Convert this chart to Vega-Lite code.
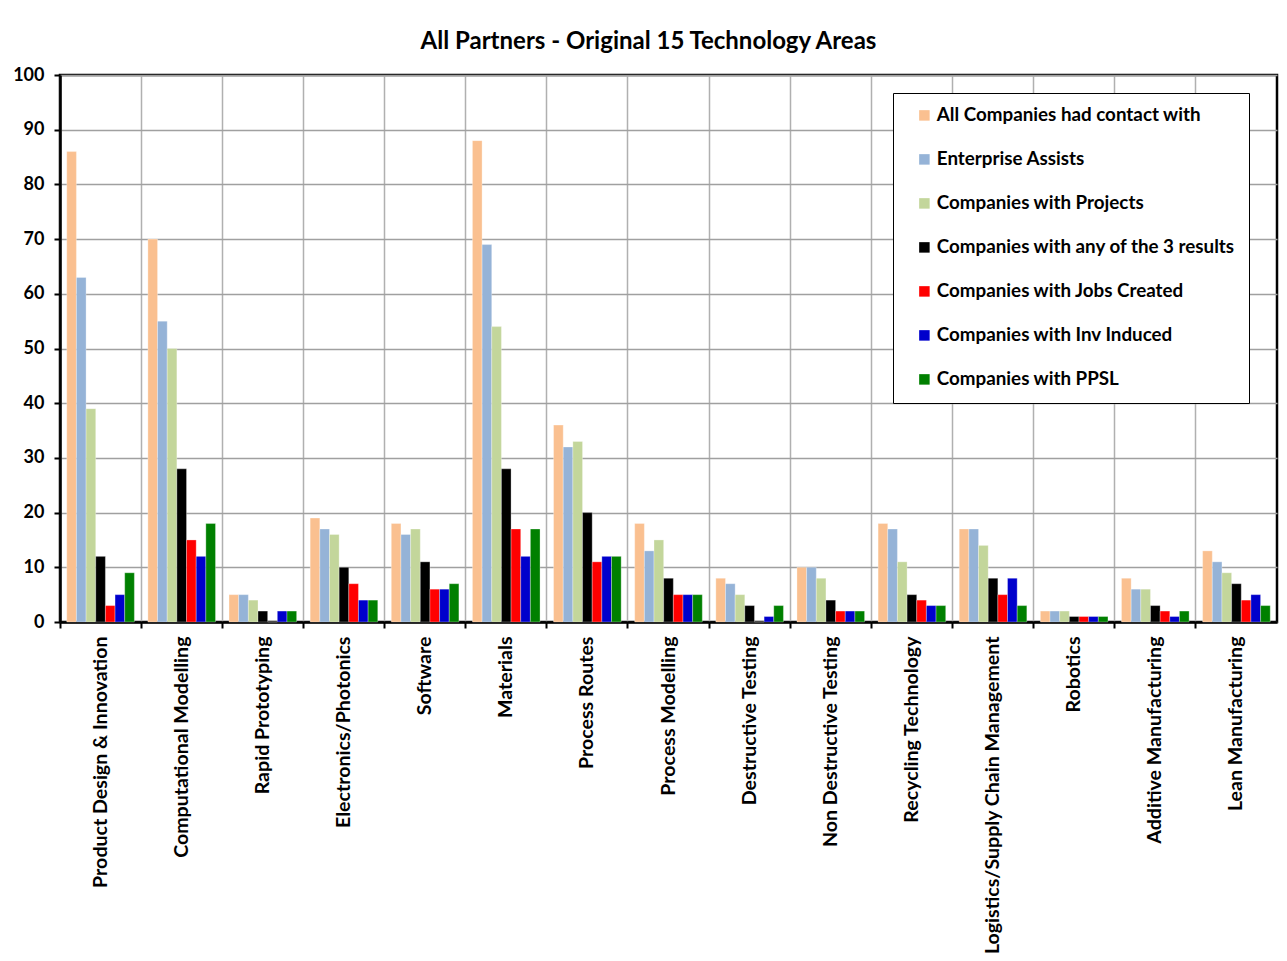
{
  "$schema": "https://vega.github.io/schema/vega-lite/v6.json",
  "autosize": {"type": "none"},
  "padding": {"left": 60, "top": 75, "right": 10, "bottom": 339},
  "width": 1217,
  "height": 547,
  "background": "white",
  "title": {
    "text": "All Partners - Original 15 Technology Areas",
    "font": "Lato",
    "fontSize": 24,
    "fontWeight": "bold",
    "color": "#000000",
    "anchor": "middle",
    "dx": -20,
    "offset": 12
  },
  "data": {"values": [
    {"area": "Product Design & Innovation", "s": 1, "value": 86}, {"area": "Product Design & Innovation", "s": 2, "value": 63}, {"area": "Product Design & Innovation", "s": 3, "value": 39}, {"area": "Product Design & Innovation", "s": 4, "value": 12}, {"area": "Product Design & Innovation", "s": 5, "value": 3}, {"area": "Product Design & Innovation", "s": 6, "value": 5}, {"area": "Product Design & Innovation", "s": 7, "value": 9},
    {"area": "Computational Modelling", "s": 1, "value": 70}, {"area": "Computational Modelling", "s": 2, "value": 55}, {"area": "Computational Modelling", "s": 3, "value": 50}, {"area": "Computational Modelling", "s": 4, "value": 28}, {"area": "Computational Modelling", "s": 5, "value": 15}, {"area": "Computational Modelling", "s": 6, "value": 12}, {"area": "Computational Modelling", "s": 7, "value": 18},
    {"area": "Rapid Prototyping", "s": 1, "value": 5}, {"area": "Rapid Prototyping", "s": 2, "value": 5}, {"area": "Rapid Prototyping", "s": 3, "value": 4}, {"area": "Rapid Prototyping", "s": 4, "value": 2}, {"area": "Rapid Prototyping", "s": 5, "value": 0}, {"area": "Rapid Prototyping", "s": 6, "value": 2}, {"area": "Rapid Prototyping", "s": 7, "value": 2},
    {"area": "Electronics/Photonics", "s": 1, "value": 19}, {"area": "Electronics/Photonics", "s": 2, "value": 17}, {"area": "Electronics/Photonics", "s": 3, "value": 16}, {"area": "Electronics/Photonics", "s": 4, "value": 10}, {"area": "Electronics/Photonics", "s": 5, "value": 7}, {"area": "Electronics/Photonics", "s": 6, "value": 4}, {"area": "Electronics/Photonics", "s": 7, "value": 4},
    {"area": "Software", "s": 1, "value": 18}, {"area": "Software", "s": 2, "value": 16}, {"area": "Software", "s": 3, "value": 17}, {"area": "Software", "s": 4, "value": 11}, {"area": "Software", "s": 5, "value": 6}, {"area": "Software", "s": 6, "value": 6}, {"area": "Software", "s": 7, "value": 7},
    {"area": "Materials", "s": 1, "value": 88}, {"area": "Materials", "s": 2, "value": 69}, {"area": "Materials", "s": 3, "value": 54}, {"area": "Materials", "s": 4, "value": 28}, {"area": "Materials", "s": 5, "value": 17}, {"area": "Materials", "s": 6, "value": 12}, {"area": "Materials", "s": 7, "value": 17},
    {"area": "Process Routes", "s": 1, "value": 36}, {"area": "Process Routes", "s": 2, "value": 32}, {"area": "Process Routes", "s": 3, "value": 33}, {"area": "Process Routes", "s": 4, "value": 20}, {"area": "Process Routes", "s": 5, "value": 11}, {"area": "Process Routes", "s": 6, "value": 12}, {"area": "Process Routes", "s": 7, "value": 12},
    {"area": "Process Modelling", "s": 1, "value": 18}, {"area": "Process Modelling", "s": 2, "value": 13}, {"area": "Process Modelling", "s": 3, "value": 15}, {"area": "Process Modelling", "s": 4, "value": 8}, {"area": "Process Modelling", "s": 5, "value": 5}, {"area": "Process Modelling", "s": 6, "value": 5}, {"area": "Process Modelling", "s": 7, "value": 5},
    {"area": "Destructive Testing", "s": 1, "value": 8}, {"area": "Destructive Testing", "s": 2, "value": 7}, {"area": "Destructive Testing", "s": 3, "value": 5}, {"area": "Destructive Testing", "s": 4, "value": 3}, {"area": "Destructive Testing", "s": 5, "value": 0}, {"area": "Destructive Testing", "s": 6, "value": 1}, {"area": "Destructive Testing", "s": 7, "value": 3},
    {"area": "Non Destructive Testing", "s": 1, "value": 10}, {"area": "Non Destructive Testing", "s": 2, "value": 10}, {"area": "Non Destructive Testing", "s": 3, "value": 8}, {"area": "Non Destructive Testing", "s": 4, "value": 4}, {"area": "Non Destructive Testing", "s": 5, "value": 2}, {"area": "Non Destructive Testing", "s": 6, "value": 2}, {"area": "Non Destructive Testing", "s": 7, "value": 2},
    {"area": "Recycling Technology", "s": 1, "value": 18}, {"area": "Recycling Technology", "s": 2, "value": 17}, {"area": "Recycling Technology", "s": 3, "value": 11}, {"area": "Recycling Technology", "s": 4, "value": 5}, {"area": "Recycling Technology", "s": 5, "value": 4}, {"area": "Recycling Technology", "s": 6, "value": 3}, {"area": "Recycling Technology", "s": 7, "value": 3},
    {"area": "Logistics/Supply Chain Management", "s": 1, "value": 17}, {"area": "Logistics/Supply Chain Management", "s": 2, "value": 17}, {"area": "Logistics/Supply Chain Management", "s": 3, "value": 14}, {"area": "Logistics/Supply Chain Management", "s": 4, "value": 8}, {"area": "Logistics/Supply Chain Management", "s": 5, "value": 5}, {"area": "Logistics/Supply Chain Management", "s": 6, "value": 8}, {"area": "Logistics/Supply Chain Management", "s": 7, "value": 3},
    {"area": "Robotics", "s": 1, "value": 2}, {"area": "Robotics", "s": 2, "value": 2}, {"area": "Robotics", "s": 3, "value": 2}, {"area": "Robotics", "s": 4, "value": 1}, {"area": "Robotics", "s": 5, "value": 1}, {"area": "Robotics", "s": 6, "value": 1}, {"area": "Robotics", "s": 7, "value": 1},
    {"area": "Additive Manufacturing", "s": 1, "value": 8}, {"area": "Additive Manufacturing", "s": 2, "value": 6}, {"area": "Additive Manufacturing", "s": 3, "value": 6}, {"area": "Additive Manufacturing", "s": 4, "value": 3}, {"area": "Additive Manufacturing", "s": 5, "value": 2}, {"area": "Additive Manufacturing", "s": 6, "value": 1}, {"area": "Additive Manufacturing", "s": 7, "value": 2},
    {"area": "Lean Manufacturing", "s": 1, "value": 13}, {"area": "Lean Manufacturing", "s": 2, "value": 11}, {"area": "Lean Manufacturing", "s": 3, "value": 9}, {"area": "Lean Manufacturing", "s": 4, "value": 7}, {"area": "Lean Manufacturing", "s": 5, "value": 4}, {"area": "Lean Manufacturing", "s": 6, "value": 5}, {"area": "Lean Manufacturing", "s": 7, "value": 3}
  ]},
  "mark": {"type": "bar", "stroke": "white", "strokeWidth": 0.5, "strokeOpacity": 0.6},
  "encoding": {
    "x": {
      "field": "area", "type": "nominal", "sort": null, "title": null,
      "scale": {"paddingInner": 0, "paddingOuter": 0},
      "axis": {
        "bandPosition": 0, "grid": true, "gridColor": "#b0b0b0", "gridWidth": 1.5,
        "domainColor": "#000000", "domainWidth": 2.5, "tickColor": "#000000", "tickWidth": 2, "tickSize": 6,
        "labelAngle": 270, "labelAlign": "right", "labelBaseline": "middle",
        "labelFont": "Lato", "labelFontSize": 19.6, "labelFontWeight": "bold", "labelColor": "#000000",
        "labelPadding": 8, "labelLimit": 400, "labelOverlap": false
      }
    },
    "xOffset": {
      "field": "s", "type": "ordinal",
      "scale": {"paddingInner": 0, "paddingOuter": 0.7}
    },
    "y": {
      "field": "value", "type": "quantitative", "title": null,
      "scale": {"domain": [0, 100], "nice": false},
      "axis": {
        "values": [0, 10, 20, 30, 40, 50, 60, 70, 80, 90, 100],
        "grid": true, "gridColor": "#a0a0a0", "gridWidth": 1.5,
        "domainColor": "#000000", "domainWidth": 2.5, "tickColor": "#000000", "tickWidth": 2, "tickSize": 6,
        "labelFont": "Lato", "labelFontSize": 18, "labelFontWeight": "bold", "labelColor": "#000000",
        "labelPadding": 10
      }
    },
    "color": {
      "field": "s", "type": "ordinal",
      "scale": {
        "domain": [1, 2, 3, 4, 5, 6, 7],
        "range": ["#FAC090", "#95B3D7", "#C3D69B", "#000000", "#FF0000", "#0000CC", "#008000"]
      },
      "legend": {
        "title": null, "orient": "none", "legendX": 833, "legendY": 18,
        "labelExpr": "['', 'All Companies had contact with', 'Enterprise Assists', 'Companies with Projects', 'Companies with any of the 3 results', 'Companies with Jobs Created', 'Companies with Inv Induced', 'Companies with PPSL'][datum.value]",
        "symbolType": "square", "symbolSize": 110, "symbolStrokeWidth": 0, "symbolOffset": 9,
        "labelFont": "Lato", "labelFontSize": 18.8, "labelFontWeight": "bold", "labelColor": "#000000",
        "labelLimit": 500, "labelOffset": 3, "rowPadding": 24, "padding": 13,
        "strokeColor": "#000000", "fillColor": "white",
        "encode": {"legend": {"update": {"strokeWidth": {"value": 2}}}}
      }
    }
  },
  "config": {
    "view": {"stroke": "#000000", "strokeWidth": 2.5}
  }
}
